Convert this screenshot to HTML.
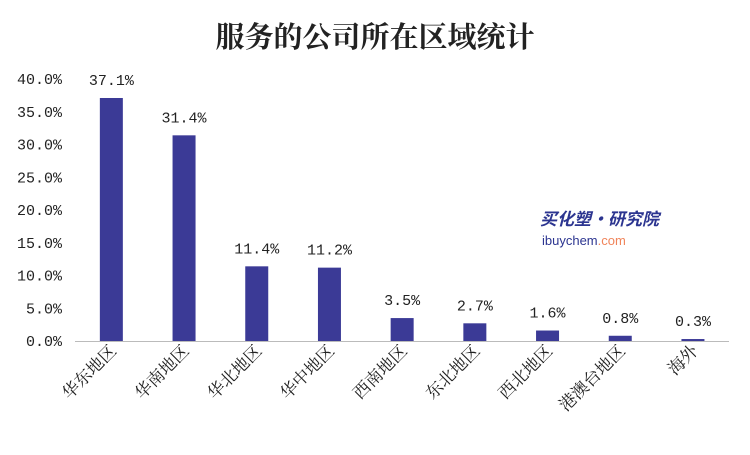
<!DOCTYPE html>
<html><head><meta charset="utf-8"><style>
body{margin:0;background:#fff;}
svg text{font-family:"Liberation Mono","Noto Serif CJK SC",monospace;fill:#222;}
</style></head><body>
<svg width="750" height="450" xmlns="http://www.w3.org/2000/svg">
<text x="375" y="47" text-anchor="middle" font-size="29" font-weight="bold" style="font-family:'Noto Serif CJK SC',serif">服务的公司所在区域统计</text>
<g id="yaxis"></g>
<line x1="75" y1="341.5" x2="729" y2="341.5" stroke="#bbb"/>
<g id="bars"></g>
<g>
<text x="540" y="225" font-size="17" font-weight="bold" font-style="italic" style="font-family:'Noto Sans CJK SC',sans-serif;fill:#2c3590">买化塑·研究院</text>
<text x="542" y="245" font-size="13" style="font-family:'Liberation Sans',sans-serif;fill:#2c3590">ibuychem<tspan style="fill:#f0845a">.com</tspan></text>
</g>
</svg>
<script>
const categories=["华东地区","华南地区","华北地区","华中地区","西南地区","东北地区","西北地区","港澳台地区","海外"];
const values=[37.1,31.4,11.4,11.2,3.5,2.7,1.6,0.8,0.3];
const yTicks=[0,5,10,15,20,25,30,35,40];
const NS="http://www.w3.org/2000/svg";
const x0=75,step=72.7,y0=341,pxPer=262/40;
const y=v=>y0-v*pxPer;
const xc=i=>x0+step*(i+0.5);
const ya=document.getElementById('yaxis');
yTicks.forEach(t=>{
 const e=document.createElementNS(NS,'text');
 
 
 e.setAttribute('x',62);e.setAttribute('y',y(t)+5);e.setAttribute('text-anchor','end');e.setAttribute('font-size','15');
 e.textContent=t.toFixed(1)+'%';ya.appendChild(e);
});
const g=document.getElementById('bars');
values.forEach((v,i)=>{
 const r=document.createElementNS(NS,'rect');
 
 
 r.setAttribute('x',xc(i)-11.5);r.setAttribute('width',23);r.setAttribute('y',y(v));r.setAttribute('height',y0-y(v));r.setAttribute('fill','#3b3a96');
 g.appendChild(r);
 const l=document.createElementNS(NS,'text');
 
 
 l.setAttribute('x',xc(i));l.setAttribute('y',y(v)-13);l.setAttribute('text-anchor','middle');l.setAttribute('font-size','15');
 l.textContent=v.toFixed(1)+'%';g.appendChild(l);
 const c=document.createElementNS(NS,'text');
 
 
 c.setAttribute('text-anchor','end');c.setAttribute('font-size','17');
 c.setAttribute('transform','translate('+(xc(i)+6)+',352) rotate(-45)');
 c.setAttribute('style','font-family:"Noto Serif CJK SC",serif');
 c.textContent=categories[i];g.appendChild(c);
});
</script>
</body></html>
